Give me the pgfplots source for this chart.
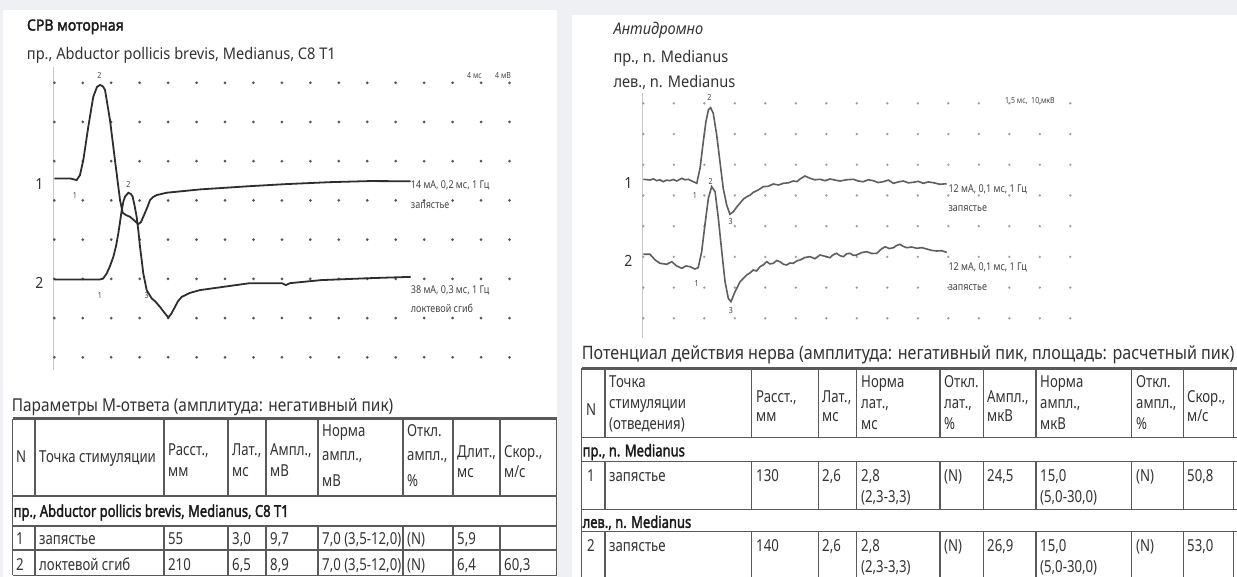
\documentclass[border=0pt]{standalone}
\usepackage{fontspec}
\setmainfont{Noto Sans}[AutoFakeBold=2.2]
\usepackage{graphicx}
\usepackage{pgfplots}
\pgfplotsset{compat=1.18}
\definecolor{bg}{HTML}{EEF0F3}
\definecolor{ink}{HTML}{1A1A1A}
\definecolor{lab}{HTML}{333333}
\definecolor{sml}{HTML}{444444}
\definecolor{traceL}{HTML}{2E2E2E}
\definecolor{traceR}{HTML}{5E5E5E}
\definecolor{dotL}{HTML}{555555}
\definecolor{dotR}{HTML}{9C9C9C}
\definecolor{rule}{HTML}{5A5A5A}
\definecolor{axl}{HTML}{C8C8C8}
\newcommand{\fs}[1]{\fontsize{#1bp}{#1bp}\selectfont}
\newcommand{\ys}{1.1}
% left-anchored text: size, x, y(center), text
\newcommand{\tx}[5][lab]{\node[anchor=base west,inner sep=0pt,text=#1,font=\fs{#2}] at (#3,{#4+0.36*#2*\ys}) {\scalebox{1}[\ys]{#5}};}
% centred text
\newcommand{\tc}[5][lab]{\node[anchor=base,inner sep=0pt,text=#1,font=\fs{#2}] at (#3,{#4+0.36*#2*\ys}) {\scalebox{1}[\ys]{#5}};}
\begin{document}
\begin{tikzpicture}
\useasboundingbox (0,0) rectangle (1237bp,577bp);
\clip (0,0) rectangle (1237bp,577bp);
\fill[bg] (0,0) rectangle (1237bp,577bp);
\begin{scope}[x=1bp,y=-1bp,yshift=577bp]
 \fill[white] (3,10) rectangle (557,577);
 \fill[white] (572,15) rectangle (1237,577);
 % ---------- left panel titles
 \tx[ink]{14}{26.8}{25}{\bfseries СРВ моторная}
 \tx{14.6}{26.8}{53.3}{пр., Abductor pollicis brevis, Medianus, C8 T1}
 % axis line
 \draw[axl,line width=0.9bp] (53.3,66.7) -- (53.3,370);
 \tc{14}{39.3}{184}{1}
 \tc{14}{39.3}{282.7}{2}
 \renewcommand{\ys}{1.2}
 \tc[sml]{7}{99.3}{75}{2}
 \tc[sml]{7}{75}{195}{1}
 \tc[sml]{7}{128.3}{184}{2}
 \tc[sml]{7}{100}{295}{1}
 \tc[sml]{7}{146.7}{295}{3}
 \tx[sml]{7}{467}{75}{4 мс}
 \tx[sml]{7}{495}{75}{4 мВ}
 \tx[sml]{9}{410.7}{185}{14 мА, 0,2 мс, 1 Гц}
 \tx[sml]{9}{410.7}{205}{запястье}
 \tx[sml]{9}{410.7}{290}{38 мА, 0,3 мс, 1 Гц}
 \tx[sml]{9}{410.7}{308.3}{локтевой сгиб}
 % ---------- left table
 \renewcommand{\ys}{1.15}
 \tx{15.4}{11.7}{405}{Параметры М-ответа (амплитуда: негативный пик)}
 \draw[rule,line width=2.6bp] (12.5,418.7) -- (556.7,418.7);
 \foreach \yy in {496,526,550,575.5} \draw[rule,line width=1.5bp] (12.5,\yy) -- (556.7,\yy);
 \foreach \xx in {12.5,35,164,228,266,318,403,453,500,556.7} {
   \draw[rule,line width=1.5bp] (\xx,418.7) -- (\xx,496);
   \draw[rule,line width=1.5bp] (\xx,526) -- (\xx,575.5);}
 \draw[rule,line width=1.5bp] (12.5,496) -- (12.5,526);
 \draw[rule,line width=1.5bp] (556.7,496) -- (556.7,526);
 \renewcommand{\ys}{1.25}
 \tx{13.2}{16}{457}{N}
 \tx{13.2}{39}{457}{Точка стимуляции}
 \tx{13.2}{168}{450}{Расст.,} \tx{13.2}{168}{471}{мм}
 \tx{13.2}{232}{450}{Лат.,} \tx{13.2}{232}{471}{мс}
 \tx{13.2}{270}{450}{Ампл.,} \tx{13.2}{270}{471}{мВ}
 \tx{13.2}{322}{431}{Норма} \tx{13.2}{322}{455}{ампл.,} \tx{13.2}{322}{481}{мВ}
 \tx{13.2}{407}{431}{Откл.} \tx{13.2}{407}{455}{ампл.,} \tx{13.2}{407}{481}{\%}
 \tx{13.2}{457}{452}{Длит.,} \tx{13.2}{457}{472}{мс}
 \tx{13.2}{504}{452}{Скор.,} \tx{13.2}{504}{472}{м/с}
 \tx[ink]{13}{13.5}{511}{\bfseries пр., Abductor pollicis brevis, Medianus, C8 T1}
 \tx{13.2}{16}{538.5}{1} \tx{13.2}{39}{538.5}{запястье} \tx{13.2}{168}{538.5}{55}
 \tx{13.2}{232}{538.5}{3,0} \tx{13.2}{270}{538.5}{9,7} \tx{13.2}{322}{538.5}{7,0 (3,5-12,0)}
 \tx{13.2}{407}{538.5}{(N)} \tx{13.2}{457}{538.5}{5,9}
 \tx{13.2}{16}{564.5}{2} \tx{13.2}{39}{564.5}{локтевой сгиб} \tx{13.2}{168}{564.5}{210}
 \tx{13.2}{232}{564.5}{6,5} \tx{13.2}{270}{564.5}{8,9} \tx{13.2}{322}{564.5}{7,0 (3,5-12,0)}
 \tx{13.2}{407}{564.5}{(N)} \tx{13.2}{457}{564.5}{6,4} \tx{13.2}{504}{564.5}{60,3}
 % ---------- right panel titles
 \renewcommand{\ys}{1.1}
 \tx{14.6}{613.3}{28.7}{\itshape Антидромно}
 \tx{14.6}{613.3}{56.3}{пр., n. Medianus}
 \tx{14.6}{613.3}{82}{лев., n. Medianus}
 \draw[axl,line width=0.8bp] (642.7,93) -- (642.7,338);
 \tc{14}{628.3}{183.3}{1}
 \tc{14}{628.3}{261}{2}
 \renewcommand{\ys}{1.2}
 \tc[sml]{7}{709.3}{97.7}{2}
 \tc[sml]{7}{695}{195}{1}
 \tc[sml]{7}{710.7}{181}{2}
 \tc[sml]{7}{730.7}{221.7}{3}
 \tc[sml]{7}{696.7}{283.3}{1}
 \tc[sml]{7}{731}{310}{3}
 \tx[sml]{7}{1005}{100}{1,5 мс, \ 10 мкВ}
 \tx[sml]{9}{948.3}{189}{12 мА, 0,1 мс, 1 Гц}
 \tx[sml]{9}{948.3}{207.7}{запястье}
 \tx[sml]{9}{948.3}{266.7}{12 мА, 0,1 мс, 1 Гц}
 \tx[sml]{9}{948.3}{286.7}{запястье}
 % ---------- right table
 \renewcommand{\ys}{1.15}
 \tx{16.1}{581.7}{352.5}{Потенциал действия нерва (амплитуда: негативный пик, площадь: расчетный пик)}
 \draw[rule,line width=2.6bp] (581.7,368.3) -- (1237,368.3);
 \foreach \yy in {437.7,461.7,509.3,531.7} \draw[rule,line width=1.5bp] (581.7,\yy) -- (1237,\yy);
 \foreach \xx in {581.7,605,751.7,818.3,856.7,940,983.3,1036,1131.7,1183.3,1233.3} {
   \draw[rule,line width=1.5bp] (\xx,368.3) -- (\xx,437.7);
   \draw[rule,line width=1.5bp] (\xx,461.7) -- (\xx,509.3);
   \draw[rule,line width=1.5bp] (\xx,531.7) -- (\xx,580);}
 \draw[rule,line width=1.5bp] (581.7,437.7) -- (581.7,461.7);
 \draw[rule,line width=1.5bp] (581.7,509.3) -- (581.7,531.7);
 \renewcommand{\ys}{1.25}
 \tx{13.2}{586}{410}{N}
 \tx{13.2}{609}{382}{Точка} \tx{13.2}{609}{403}{стимуляции} \tx{13.2}{609}{424}{(отведения)}
 \tx{13.2}{756}{397}{Расст.,} \tx{13.2}{756}{416}{мм}
 \tx{13.2}{822}{397}{Лат.,} \tx{13.2}{822}{416}{мс}
 \tx{13.2}{861}{382}{Норма} \tx{13.2}{861}{403}{лат.,} \tx{13.2}{861}{424}{мс}
 \tx{13.2}{944}{382}{Откл.} \tx{13.2}{944}{403}{лат.,} \tx{13.2}{944}{424}{\%}
 \tx{13.2}{987}{397}{Ампл.,} \tx{13.2}{987}{416}{мкВ}
 \tx{13.2}{1040}{382}{Норма} \tx{13.2}{1040}{403}{ампл.,} \tx{13.2}{1040}{424}{мкВ}
 \tx{13.2}{1136}{382}{Откл.} \tx{13.2}{1136}{403}{ампл.,} \tx{13.2}{1136}{424}{\%}
 \tx{13.2}{1187}{397}{Скор.,} \tx{13.2}{1187}{416}{м/с}
 \tx[ink]{13}{582.5}{450.5}{\bfseries пр., n. Medianus}
 \tx[ink]{13}{582.5}{522}{\bfseries лев., n. Medianus}
 % row 1
 \tx{13.2}{587}{476}{1} \tx{13.2}{609}{476}{запястье} \tx{13.2}{756}{476}{130}
 \tx{13.2}{822}{476}{2,6} \tx{13.2}{861}{476}{2,8} \tx{13.2}{861}{496.5}{(2,3-3,3)}
 \tx{13.2}{944}{476}{(N)} \tx{13.2}{987}{476}{24,5} \tx{13.2}{1040}{476}{15,0}
 \tx{13.2}{1040}{496.5}{(5,0-30,0)} \tx{13.2}{1136}{476}{(N)} \tx{13.2}{1187}{476}{50,8}
 % row 2
 \tx{13.2}{587}{546}{2} \tx{13.2}{609}{546}{запястье} \tx{13.2}{756}{546}{140}
 \tx{13.2}{822}{546}{2,6} \tx{13.2}{861}{546}{2,8} \tx{13.2}{861}{566.5}{(2,3-3,3)}
 \tx{13.2}{944}{546}{(N)} \tx{13.2}{987}{546}{26,9} \tx{13.2}{1040}{546}{15,0}
 \tx{13.2}{1040}{566.5}{(5,0-30,0)} \tx{13.2}{1136}{546}{(N)} \tx{13.2}{1187}{546}{53,0}
\end{scope}
% ================= left traces
\begin{axis}[at={(54.3bp,219.7bp)}, anchor=south west, scale only axis,
  width=455.2bp, height=274.6bp, xmin=0, xmax=64, ymin=-28, ymax=0,
  xtick={0,4,...,64}, ytick=\empty, xticklabels={},
  axis line style={draw=none}, tick style={draw=none},
  xmajorgrids, major grid style={draw=dotL, line width=3bp, line cap=round, dash pattern=on 0bp off 39.22bp},
  clip=false]
\addplot[traceL, line width=1.8bp, no marks] table {
x y
0 -9.76
2.21 -9.76
3.15 -9.93
3.61 -9.42
4.08 -7.89
4.78 -4.49
5.48 -1.43
6.0 -0.44
6.43 -0.23
6.85 -0.39
7.13 -0.74
7.83 -3.81
8.53 -7.89
9.24 -11.97
9.62 -13.27
10.08 -13.5
10.64 -13.67
11.34 -14.11
11.81 -14.42
12.19 -14.21
12.51 -13.67
13.03 -12.79
13.46 -11.97
13.88 -11.66
14.4 -11.46
15.8 -11.22
20.5 -10.88
27.5 -10.55
32.6 -10.34
38.8 -10.14
44.4 -10.03
50.1 -10.05
};
\addplot[traceL, line width=1.8bp, no marks] table {
x y
0 -20.06
6.43 -20.06
6.85 -19.98
7.37 -19.45
7.83 -18.7
8.3 -17.76
8.68 -16.66
9.0 -15.37
9.24 -14.21
9.48 -12.99
9.73 -12.07
9.94 -11.63
10.41 -11.22
10.78 -11.36
11.02 -11.63
11.27 -12.48
11.58 -13.67
11.84 -15.23
12.05 -16.73
12.29 -18.1
12.51 -19.45
12.99 -21.15
13.69 -22.0
14.16 -22.28
14.86 -22.86
15.42 -23.4
16.03 -23.94
16.41 -23.6
16.97 -22.86
17.39 -22.28
17.91 -21.84
19.08 -21.43
20.48 -21.15
22.45 -20.95
27.5 -20.44
32.0 -20.44
32.54 -20.64
33.14 -20.44
37.5 -20.13
44.4 -19.93
50.1 -19.8
};
\end{axis}
% ================= right traces
\begin{axis}[at={(643.3bp,258.7bp)}, anchor=south west, scale only axis,
  width=427bp, height=215bp, xmin=0, xmax=21, ymin=-70, ymax=0,
  xtick={0,1.5,3,4.5,6,7.5,9,10.5,12,13.5,15,16.5,18,19.5,21}, ytick=\empty, xticklabels={},
  axis line style={draw=none}, tick style={draw=none},
  xmajorgrids, major grid style={draw=dotR, line width=2.6bp, line cap=round, dash pattern=on 0bp off 30.71bp},
  clip=false]
\addplot[traceR, line width=1.6bp, no marks] table {
x y
0 -24.74
0.33 -24.97
0.5 -24.6
0.66 -25.2
0.82 -24.9
0.98 -25.53
1.15 -25.0
1.31 -25.2
1.48 -24.8
1.64 -25.3
1.89 -24.42
2.05 -24.9
2.21 -24.74
2.46 -25.53
2.63 -26.05
2.79 -21.16
2.95 -12.5
3.08 -5.99
3.2 -2.18
3.31 -1.43
3.44 -3.26
3.61 -10.32
3.77 -19.01
3.93 -27.67
4.1 -33.11
4.26 -36.14
4.43 -35.29
4.59 -33.8
4.75 -32.56
4.92 -31.2
5.09 -30.41
5.25 -29.9
5.41 -28.98
5.66 -28.2
5.9 -27.15
6.15 -27.0
6.39 -26.27
6.64 -26.6
6.89 -26.05
7.13 -25.9
7.38 -25.3
7.55 -25.5
7.71 -24.65
7.95 -23.67
8.2 -24.42
8.44 -24.9
8.69 -24.74
8.93 -25.2
9.18 -24.65
9.43 -25.0
9.67 -25.3
10.0 -24.9
10.33 -24.74
10.57 -25.3
10.82 -25.53
11.06 -24.9
11.31 -25.2
11.55 -25.8
11.8 -25.53
12.05 -25.0
12.3 -26.05
12.54 -25.6
12.79 -25.3
13.03 -25.9
13.28 -25.72
13.52 -25.4
13.77 -26.05
14.02 -25.6
14.26 -25.85
14.59 -26.37
14.92 -26.18
};
\addplot[traceR, line width=1.6bp, no marks] table {
x y
0 -49.16
0.33 -49.16
0.58 -51.02
0.82 -52.09
1.15 -52.42
1.4 -51.57
1.64 -52.97
1.89 -53.72
2.1 -52.97
2.3 -53.2
2.54 -53.95
2.7 -53.52
2.87 -48.32
3.03 -39.62
3.2 -30.93
3.36 -27.15
3.53 -28.78
3.69 -37.44
3.86 -48.32
4.02 -58.08
4.18 -63.49
4.31 -64.6
4.51 -61.34
4.76 -58.08
5.09 -55.9
5.25 -55.2
5.41 -54.27
5.57 -54.6
5.74 -53.2
5.9 -52.6
6.07 -51.57
6.23 -52.3
6.39 -52.09
6.56 -51.2
6.72 -51.57
6.89 -52.4
7.05 -52.65
7.21 -52.0
7.38 -52.09
7.55 -51.3
7.71 -51.02
7.95 -50.2
8.2 -49.94
8.44 -50.6
8.69 -49.39
8.93 -49.8
9.18 -50.27
9.34 -49.3
9.51 -48.84
9.67 -49.6
9.84 -49.94
10.0 -49.0
10.16 -48.84
10.33 -49.5
10.49 -49.39
10.74 -48.6
10.99 -48.32
11.23 -48.9
11.48 -48.84
11.7 -47.5
11.89 -46.69
12.1 -47.3
12.3 -47.01
12.46 -46.3
12.62 -45.91
12.79 -46.6
12.95 -47.01
13.2 -46.8
13.45 -47.21
13.7 -47.0
13.94 -47.44
14.19 -47.9
14.43 -48.09
14.68 -48.0
14.92 -48.51
};
\end{axis}
\end{tikzpicture}
\end{document}
